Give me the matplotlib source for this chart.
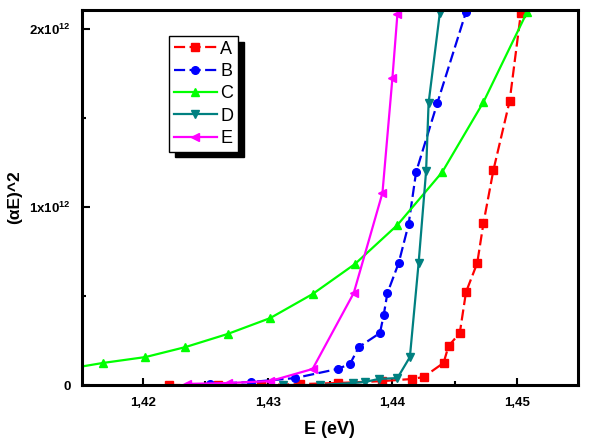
import matplotlib
matplotlib.use("Agg")
import matplotlib.pyplot as plt
from matplotlib.ticker import FixedLocator, MultipleLocator

plt.rcParams['font.family'] = ['Liberation Sans', 'DejaVu Sans']
plt.rcParams['mathtext.fontset'] = 'custom'
plt.rcParams['mathtext.rm'] = 'Liberation Sans:bold'
plt.rcParams['mathtext.bf'] = 'Liberation Sans:bold'
plt.rcParams['mathtext.default'] = 'regular'

# ---- data (values in units of 1e12) ----
E_A = [1.4221, 1.4260, 1.4295, 1.4326, 1.4356, 1.4392, 1.4416, 1.4425, 1.4441,
       1.4445, 1.4454, 1.4459, 1.4468, 1.4473, 1.4481, 1.4494, 1.4503]
V_A = [0.0, 0.0, 0.0, 0.005, 0.011, 0.022, 0.034, 0.045, 0.124,
       0.219, 0.292, 0.522, 0.685, 0.910, 1.208, 1.596, 2.090]

E_B = [1.4254, 1.4287, 1.4322, 1.4356, 1.4366, 1.4373, 1.4390, 1.4393,
       1.4396, 1.4405, 1.4413, 1.4419, 1.4436, 1.4459]
V_B = [0.006, 0.017, 0.039, 0.090, 0.118, 0.213, 0.292, 0.393,
       0.517, 0.685, 0.904, 1.197, 1.584, 2.096]

E_C = [1.4134, 1.4168, 1.4202, 1.4234, 1.4268, 1.4302, 1.4336, 1.4370,
       1.4404, 1.4440, 1.4473, 1.4508]
V_C = [0.084, 0.124, 0.157, 0.213, 0.287, 0.376, 0.511, 0.680,
       0.899, 1.197, 1.590, 2.096]

E_D = [1.4312, 1.4342, 1.4368, 1.4378, 1.4389, 1.4404, 1.4414, 1.4421,
       1.4427, 1.4429, 1.4438]
V_D = [0.0, 0.0, 0.011, 0.017, 0.034, 0.039, 0.157, 0.685,
       1.202, 1.584, 2.090]

E_E = [1.4235, 1.4268, 1.4302, 1.4336, 1.4369, 1.4392, 1.4400, 1.4404]
V_E = [0.006, 0.011, 0.022, 0.090, 0.517, 1.079, 1.725, 2.084]

labels = ['A', 'B', 'C', 'D', 'E']
x_ticks = [1.42, 1.43, 1.44, 1.45]
x_tick_labels = ['1,42', '1,43', '1,44', '1,45']
y_ticks = [0, 1, 2]
y_tick_labels = ['0', '1x10$^{12}$', '2x10$^{12}$']

scale = 1e12

fig = plt.figure(figsize=(5.97, 4.38), dpi=100)
ax = fig.add_axes([82/597, 1-385/438, (578-82)/597, (385-10)/438])

styles = [
    dict(color='#ff0000', marker='s', ls=(0, (5, 2))),
    dict(color='#0000ee', mfc='#0000ff', mec='#0000ff', marker='o', ls=(0, (5, 2))),
    dict(color='#00ff00', marker='^', ls='-'),
    dict(color='#008080', marker='v', ls='-'),
    dict(color='#ff00ff', marker='<', ls='-'),
]
series = [(E_A, V_A), (E_B, V_B), (E_C, V_C), (E_D, V_D), (E_E, V_E)]
for (xs, ys), lab, st in zip(series, labels, styles):
    ax.plot(xs, [v*scale for v in ys], label=lab, lw=1.6, ms=5.5, **st)

ax.set_xlim(1.41511, 1.45488)
ax.set_ylim(0, 2.107*scale)

ax.xaxis.set_major_locator(FixedLocator(x_ticks))
ax.set_xticklabels(x_tick_labels)
ax.xaxis.set_minor_locator(MultipleLocator(0.005))
ax.yaxis.set_major_locator(FixedLocator([t*scale for t in y_ticks]))
ax.set_yticklabels(y_tick_labels)
ax.yaxis.set_minor_locator(MultipleLocator(0.5*scale))

ax.tick_params(which='both', direction='in', top=False, right=False, width=1.5)
ax.tick_params(axis='x', which='major', length=5, pad=9, labelsize=9.5)
ax.tick_params(axis='x', which='minor', length=3)
ax.tick_params(axis='y', which='major', length=6, pad=8, labelsize=9.5)
ax.tick_params(axis='y', which='minor', length=3)
for lab in ax.get_xticklabels() + ax.get_yticklabels():
    lab.set_fontweight('bold')

for s in ax.spines.values():
    s.set_linewidth(2.2)

ax.set_xlabel('E (eV)', fontsize=13, fontweight='bold')
ax.set_ylabel('(αE)^2', fontsize=12.5, fontweight='bold')
ax.xaxis.set_label_coords((329-82)/496, (385-430)/375)
ax.yaxis.set_label_coords((15-82)/496, (385-197)/375)
ax.xaxis.label.set_va('center')
ax.yaxis.label.set_va('center')

leg = ax.legend(loc='upper left', bbox_to_anchor=((169-82)/496, 1-(36-10)/375),
                frameon=True, fancybox=False, edgecolor='black', fontsize=13,
                handlelength=2.4, handletextpad=0.2, borderpad=0.25,
                labelspacing=0.3, borderaxespad=0,
                shadow={'ox': 4, 'oy': -4, 'facecolor': 'black',
                        'edgecolor': 'black', 'alpha': 1})
leg.get_frame().set_linewidth(1.0)

fig.savefig('out.png', dpi=100)
